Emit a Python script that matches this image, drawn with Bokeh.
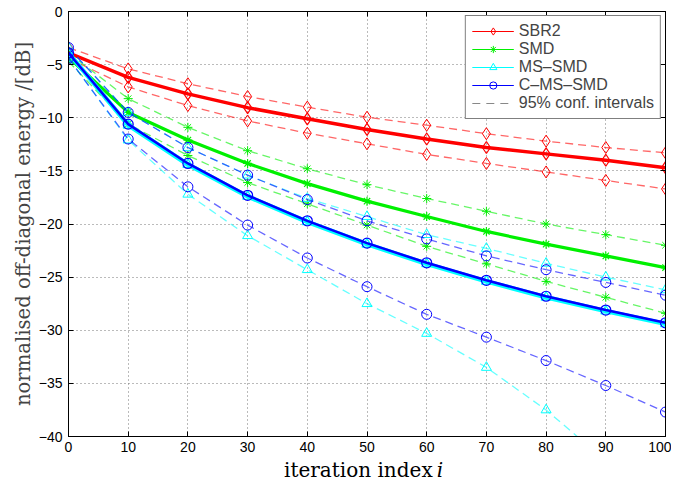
from bokeh.plotting import figure
from bokeh.layouts import column
from bokeh.models import Range1d, FixedTicker, LinearAxis, Legend, LegendItem, Label
from bokeh.embed import file_html
from bokeh.resources import INLINE

NAN = float("nan")

# ---------------- data ----------------
iters = [0, 10, 20, 30, 40, 50, 60, 70, 80, 90, 100]

sbr2_mean = [-3.9, -6.2, -7.75, -9.05, -10.1, -11.1, -12.0, -12.8, -13.4, -14.0, -14.7]
sbr2_up = [-3.4, -5.4, -6.8, -8.0, -9.0, -9.95, -10.7, -11.5, -12.2, -12.8, -13.3]
sbr2_lo = [-4.4, -7.1, -8.85, -10.3, -11.45, -12.45, -13.45, -14.3, -15.1, -15.9, -16.7]

smd_mean = [-4.3, -9.5, -12.1, -14.3, -16.2, -17.85, -19.3, -20.7, -21.9, -23.0, -24.1]
smd_up = [-3.9, -8.2, -10.9, -13.1, -14.8, -16.3, -17.6, -18.8, -20.0, -21.0, -22.0]
smd_lo = [-4.7, -10.6, -13.55, -16.1, -18.1, -20.1, -22.1, -23.75, -25.4, -26.9, -28.4]

mssmd_mean = [-3.9, -10.7, -14.4, -17.4, -19.8, -21.9, -23.75, -25.4, -26.9, -28.2, -29.4]
mssmd_up = [-3.4, -9.5, -12.8, -15.4, -17.6, -19.3, -21.0, -22.3, -23.7, -25.0, -26.2]
mssmd_lo = [-4.4, -12.1, -17.2, -21.1, -24.3, -27.5, -30.3, -33.5, -37.5, -42.3, -47.0]

cmssmd_mean = [-3.9, -10.6, -14.3, -17.3, -19.7, -21.8, -23.65, -25.3, -26.8, -28.1, -29.3]
cmssmd_up = [-3.4, -9.5, -12.8, -15.4, -17.7, -19.7, -21.4, -23.0, -24.3, -25.5, -26.7]
cmssmd_lo = [-4.4, -12.0, -16.5, -20.1, -23.2, -25.9, -28.5, -30.65, -32.85, -35.2, -37.7]

x_ticks = [0, 10, 20, 30, 40, 50, 60, 70, 80, 90, 100]
y_ticks = [-40, -35, -30, -25, -20, -15, -10, -5, 0]
y_tick_labels = {t: (str(t) if t >= 0 else "\u2212" + str(-t)) for t in y_ticks}

names = ["SBR2", "SMD", "MS\u2013SMD", "C\u2013MS\u2013SMD"]
ci_label = "95% conf. intervals"
x_label = "iteration index"
x_label_var = "i"
y_label = "normalised off-diagonal energy /[dB]"

series = [
    (names[0], "#ff0000", "diamond", 12, 3.5, sbr2_mean, sbr2_up, sbr2_lo),
    (names[1], "#00f000", "asterisk", 9, 3.2, smd_mean, smd_up, smd_lo),
    (names[2], "#00ffff", "triangle", 10, 4.5, mssmd_mean, mssmd_up, mssmd_lo),
    (names[3], "#0000ff", "circle", 10, 2.5, cmssmd_mean, cmssmd_up, cmssmd_lo),
]

TICK_FONT = "Liberation Sans"
LABEL_FONT = "DejaVu Serif"

p = figure(width=671, height=457, x_range=Range1d(0, 100), y_range=Range1d(-40, 0),
           output_backend="svg", toolbar_location=None,
           min_border_left=68, min_border_right=6, min_border_top=11, min_border_bottom=21)

p.background_fill_color = "white"
p.border_fill_color = "white"
p.outline_line_color = "black"
p.outline_line_width = 1

for ax in (p.xaxis[0], p.yaxis[0]):
    ax.major_tick_in = 5
    ax.major_tick_out = 0
    ax.minor_tick_line_color = None
    ax.axis_line_color = "black"
    ax.major_tick_line_color = "black"
    ax.major_label_text_font = TICK_FONT
    ax.major_label_text_font_size = "14px"
    ax.major_label_text_color = "black"

p.xaxis[0].ticker = FixedTicker(ticks=x_ticks)
p.yaxis[0].ticker = FixedTicker(ticks=y_ticks)
p.yaxis[0].major_label_overrides = y_tick_labels
p.xaxis[0].major_label_standoff = 5
p.yaxis[0].major_label_standoff = 6

p.yaxis[0].axis_label = y_label
p.yaxis[0].axis_label_text_font = LABEL_FONT
p.yaxis[0].axis_label_text_font_style = "normal"
p.yaxis[0].axis_label_text_font_size = "19.6px"
p.yaxis[0].axis_label_standoff = 1

# box ticks on top and right (labels not drawn)
top = LinearAxis(ticker=FixedTicker(ticks=x_ticks), major_tick_in=5, major_tick_out=0,
                 minor_tick_line_color=None, major_label_text_font_size="1px",
                 major_label_text_color=None, major_label_standoff=0, axis_line_color="black")
right = LinearAxis(ticker=FixedTicker(ticks=y_ticks), major_tick_in=5, major_tick_out=0,
                   minor_tick_line_color=None, major_label_text_font_size="1px",
                   major_label_text_color=None, major_label_standoff=0, axis_line_color="black")
p.add_layout(top, "above")
p.add_layout(right, "right")

for g in (p.xgrid[0], p.ygrid[0]):
    g.grid_line_color = "#777777"
    g.grid_line_dash = "1 3"
    g.grid_line_width = 1
p.xgrid[0].ticker = FixedTicker(ticks=x_ticks)
p.ygrid[0].ticker = FixedTicker(ticks=y_ticks)

items = []
for name, col, mk, sz, lw, mean, up, lo in series:
    for band in (up, lo):
        p.line(iters, band, line_color=col, line_alpha=0.6, line_width=1.3, line_dash="8 5")
        p.scatter(iters, band, marker=mk, size=sz, line_color=col, fill_color=None, line_width=1)
    p.line(iters, mean, line_color=col, line_width=lw)
    p.scatter(iters, mean, marker=mk, size=sz, line_color=col, fill_color=None, line_width=1.2)
    # legend proxies (thin line + marker), NaN data so nothing is drawn in the plot
    lr = p.line([NAN], [NAN], line_color=col, line_width=1)
    mr = p.scatter([NAN], [NAN], marker=mk, size=sz, line_color=col, fill_color=None, line_width=1)
    items.append(LegendItem(label=name, renderers=[lr, mr]))

cr = p.line([NAN], [NAN], line_color="#888888", line_width=1.2, line_dash="8 6")
items.append(LegendItem(label=ci_label, renderers=[cr]))

legend = Legend(items=items, location="top_right", margin=4, padding=6, spacing=0,
                glyph_width=42, glyph_height=18, label_height=18, label_standoff=5,
                label_text_font=TICK_FONT, label_text_font_size="16px",
                border_line_color="black", border_line_width=1,
                background_fill_color="white", background_fill_alpha=1)
p.add_layout(legend, "center")

# x axis label (with italic i) in a thin strip under the plot
p2 = figure(width=671, height=24, x_range=p.x_range, y_range=Range1d(0, 24),
            x_axis_type=None, y_axis_type=None, output_backend="svg", toolbar_location=None,
            min_border_left=68, min_border_right=6, min_border_top=0, min_border_bottom=0)
p2.outline_line_color = None
p2.grid.visible = False
p2.add_layout(Label(x=61.0, y=12, text=x_label, text_align="right",
                    text_baseline="middle", text_font=LABEL_FONT, text_font_size="20px",
                    text_color="black"))
p2.add_layout(Label(x=61.7, y=12, text=x_label_var, text_align="left",
                    text_baseline="middle", text_font=LABEL_FONT, text_font_size="20px",
                    text_font_style="italic", text_color="black"))

layout = column(p, p2, spacing=0)
open("out.html", "w").write(file_html(layout, INLINE))
